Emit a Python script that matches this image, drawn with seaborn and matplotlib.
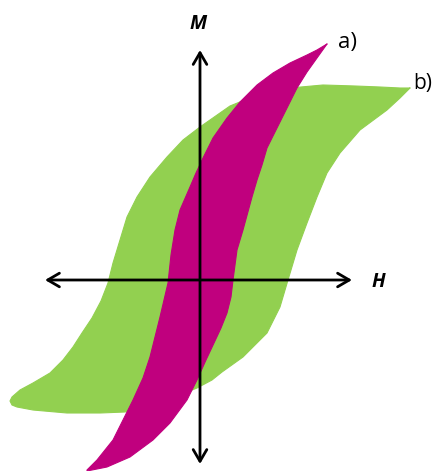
import numpy as np
import pandas as pd
import matplotlib
matplotlib.use("Agg")
import matplotlib.pyplot as plt
import seaborn as sns

# Loop a) -- narrow (soft) hysteresis loop, branches given as (H, M)
loop_a_upper_H = [1.27, 1.17, 1.07, 0.90, 0.73, 0.57, 0.40, 0.27, 0.13, 0.03,
                  -0.04, -0.10, -0.20, -0.25, -0.29, -0.32, -0.36, -0.40, -0.45,
                  -0.50, -0.57, -0.67, -0.77, -0.87, -1.03, -1.13]
loop_a_upper_M = [2.36, 2.30, 2.25, 2.17, 2.07, 1.95, 1.78, 1.62, 1.42, 1.22,
                  1.07, 0.93, 0.70, 0.50, 0.25, -0.03, -0.20, -0.37, -0.57,
                  -0.77, -0.98, -1.20, -1.40, -1.60, -1.80, -1.90]
loop_a_lower_H = [-1.13, -0.93, -0.70, -0.47, -0.30, -0.13, -0.03, 0.06, 0.14, 0.21,
                  0.27, 0.31, 0.33, 0.35, 0.37, 0.43, 0.52, 0.57, 0.62, 0.67,
                  0.77, 0.87, 0.97, 1.07, 1.17]
loop_a_lower_M = [-1.91, -1.87, -1.77, -1.60, -1.43, -1.20, -1.00, -0.80, -0.63, -0.48,
                  -0.33, -0.17, 0.00, 0.15, 0.30, 0.50, 0.83, 1.00, 1.15, 1.32,
                  1.52, 1.72, 1.92, 2.08, 2.22]

# Loop b) -- wide (hard) hysteresis loop
loop_b_upper_H = [2.10, 2.00, 1.80, 1.55, 1.23, 0.90, 0.57, 0.30, 0.10, 0.00,
                  -0.17, -0.33, -0.50, -0.63, -0.73, -0.80, -0.87, -0.92, -0.99,
                  -1.08, -1.18, -1.27, -1.37, -1.50, -1.67, -1.80, -1.88, -1.90]
loop_b_upper_M = [1.92, 1.92, 1.93, 1.94, 1.95, 1.92, 1.85, 1.74, 1.60, 1.53,
                  1.40, 1.23, 1.03, 0.83, 0.63, 0.40, 0.17, -0.03, -0.21,
                  -0.38, -0.53, -0.67, -0.80, -0.93, -1.03, -1.10, -1.17, -1.21]
loop_b_lower_H = [-1.88, -1.83, -1.67, -1.33, -1.00, -0.75, -0.50, -0.25, -0.03, 0.12,
                  0.22, 0.43, 0.67, 0.80, 0.88, 0.97, 1.07, 1.17, 1.27, 1.40,
                  1.60, 1.87, 2.00]
loop_b_lower_M = [-1.25, -1.27, -1.30, -1.33, -1.33, -1.32, -1.25, -1.17, -1.08, -1.00,
                  -0.92, -0.77, -0.53, -0.27, 0.00, 0.30, 0.57, 0.83, 1.07, 1.27,
                  1.50, 1.70, 1.82]

loop_labels = ["a)", "b)"]
axis_labels = ["H", "M"]

GREEN = "#92D050"
MAGENTA = "#C0007E"

sns.set_theme(style="white")
plt.rcParams["font.family"] = ["Open Sans", "DejaVu Sans"]

fig = plt.figure(figsize=(4.33, 4.71), dpi=100)
ax = fig.add_axes([0, 0, 1, 1])


def loop_frame(upH, upM, loH, loM, name):
    H = list(upH) + list(loH)
    M = list(upM) + list(loM)
    return pd.DataFrame({"H": H + [H[0]], "M": M + [M[0]], "loop": name})


df_b = loop_frame(loop_b_upper_H, loop_b_upper_M, loop_b_lower_H, loop_b_lower_M, "b")
df_a = loop_frame(loop_a_upper_H, loop_a_upper_M, loop_a_lower_H, loop_a_lower_M, "a")

for z, (df, col) in enumerate([(df_b, GREEN), (df_a, MAGENTA)]):
    ax.fill(df["H"], df["M"], color=col, lw=0, zorder=1 + 2 * z)
    sns.lineplot(data=df, x="H", y="M", sort=False, estimator=None,
                 color=col, lw=0.8, ax=ax, zorder=1.5 + 2 * z)

# Coordinate axes with arrowheads
arrow = dict(arrowstyle="<->,head_length=0.6,head_width=0.35", lw=2.0,
             color="black", shrinkA=0, shrinkB=0, mutation_scale=14)
ax.annotate("", xy=(1.52, 0), xytext=(-1.55, 0), arrowprops=arrow, zorder=6)
ax.annotate("", xy=(0, 2.30), xytext=(0, -1.84), arrowprops=arrow, zorder=6)

ax.text(1.72, -0.07, axis_labels[0], fontsize=14, fontweight="bold",
        fontstyle="italic", ha="left", va="baseline", color="black")
ax.text(-0.02, 2.51, axis_labels[1], fontsize=14, fontweight="bold",
        fontstyle="italic", ha="center", va="baseline", color="black")
ax.text(1.38, 2.32, loop_labels[0], fontsize=16, ha="left", va="baseline",
        color="black")
ax.text(2.13, 1.91, loop_labels[1], fontsize=15, ha="left", va="baseline",
        color="black")

ax.set_xlim(-2.0, 2.33)
ax.set_ylim(-1.91, 2.80)
ax.set_axis_off()

fig.savefig("out.png", dpi=100)
